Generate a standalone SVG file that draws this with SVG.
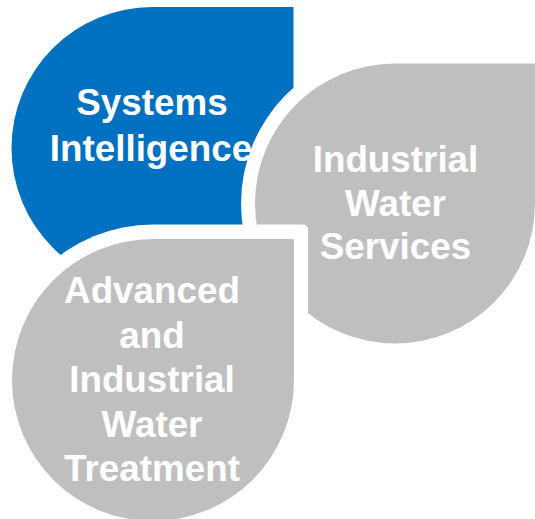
<svg xmlns="http://www.w3.org/2000/svg" width="535" height="519" viewBox="0 0 535 519">
  <style>
    .blue { fill: #0070C0; }
    .gray { fill: #BFBFBF; }
    .halo { fill: #FFFFFF; }
    .label { font-family: "Liberation Sans", Arial, sans-serif; font-weight: bold; font-size: 36.8px; fill: #FFFFFF; text-anchor: middle; }
  </style>
  <rect width="535" height="519" fill="#FFFFFF"/>

  <!-- Drop: circle with a square top-right corner -->
  <g id="systems-intelligence">
    <path class="blue" d="M152.5,7 H293.5 V148 A141,141 0 1 1 152.5,7 Z"/>
    <text class="label" x="152" y="115">Systems</text>
    <text class="label" x="151" y="161">Intelligence</text>
  </g>

  <g id="industrial-water-services">
    <!-- white halo around the drop, corner slightly rounded -->
    <path class="halo" d="M395,49 H544 A5,5 0 0 1 549,54 V203.5 A154,154 0 1 1 395,49.5 Z"/>
    <path class="gray" d="M395,63.5 H535 V203.5 A140,140 0 1 1 395,63.5 Z"/>
    <text class="label" x="395.5" y="172">Industrial</text>
    <text class="label" x="395.5" y="215.5">Water</text>
    <text class="label" x="395.5" y="259">Services</text>
  </g>

  <g id="advanced-industrial-water-treatment">
    <path class="halo" d="M153,224.5 H303 A5,5 0 0 1 308,229.5 V379.5 A155,155 0 1 1 153,224.5 Z"/>
    <path class="gray" d="M153,239 H294 V379.5 A141,141 0 1 1 153,239 Z"/>
    <text class="label" x="152" y="303">Advanced</text>
    <text class="label" x="152" y="348">and</text>
    <text class="label" x="152" y="392">Industrial</text>
    <text class="label" x="152" y="437">Water</text>
    <text class="label" x="152" y="481">Treatment</text>
  </g>

  <g id="connectors"></g>
</svg>
